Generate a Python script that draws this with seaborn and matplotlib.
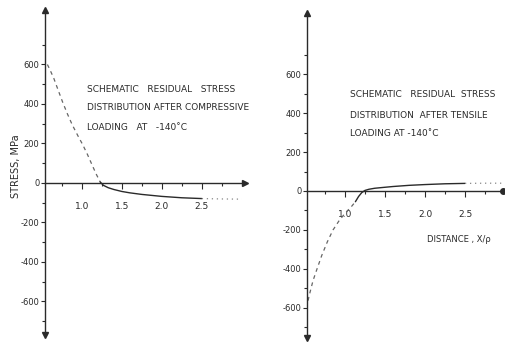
import matplotlib
matplotlib.use("Agg")
import matplotlib.pyplot as plt
import seaborn as sns

sns.set_style("white")
plt.rcParams['font.family'] = ['DejaVu Sans']

# ---- data (left: compressive loading) ----
comp_dash_x = [0.57, 0.60, 0.65, 0.70, 0.76, 0.82, 0.88, 0.95, 1.01, 1.07, 1.13, 1.18, 1.23]
comp_dash_y = [600, 575, 530, 475, 410, 350, 295, 240, 195, 145, 90, 45, 5]
comp_solid_x = [1.23, 1.27, 1.33, 1.40, 1.50, 1.60, 1.75, 2.00, 2.25, 2.50]
comp_solid_y = [5, -12, -24, -33, -43, -50, -58, -68, -75, -79]
comp_dot_x = [2.50, 2.75, 3.00]
comp_dot_y = [-79, -81, -82]

# ---- data (right: tensile loading) ----
tens_dash_x = [0.52, 0.55, 0.60, 0.65, 0.71, 0.78, 0.85, 0.93, 1.01, 1.08, 1.13]
tens_dash_y = [-600, -540, -460, -400, -330, -260, -200, -150, -110, -80, -55]
tens_solid_x = [1.13, 1.17, 1.21, 1.25, 1.30, 1.37, 1.47, 1.60, 1.80, 2.00, 2.25, 2.50]
tens_solid_y = [-55, -28, -8, 3, 9, 14, 18, 23, 29, 33, 37, 39]
tens_dot_x = [2.50, 2.75, 2.97]
tens_dot_y = [39, 40, 40]

y_ticks = [-600, -400, -200, 0, 200, 400, 600]
y_labels = ["-600", "-400", "-200", "0", "200", "400", "600"]
x_ticks = [1.0, 1.5, 2.0, 2.5]
x_labels = ["1.0", "1.5", "2.0", "2.5"]

W, H = 505, 347
fig = plt.figure(figsize=(W / 100, H / 100), dpi=100)
fig.patch.set_facecolor("white")

ink = "#2a2a2a"

def make_axes(rect, xlim, ylim, xpad):
    ax = fig.add_axes(rect)
    ax.set_xlim(*xlim)
    ax.set_ylim(*ylim)
    ax.patch.set_alpha(0)
    for s in ["top", "right"]:
        ax.spines[s].set_visible(False)
    ax.spines["bottom"].set_position(("data", 0))
    for s in ["left", "bottom"]:
        ax.spines[s].set_color(ink)
        ax.spines[s].set_linewidth(1.0)
    ax.set_yticks(y_ticks)
    ax.set_yticklabels(y_labels)
    ax.set_yticks([-700, -500, -300, -100, 100, 300, 500, 700], minor=True)
    ax.set_xticks(x_ticks)
    ax.set_xticklabels(x_labels)
    ax.set_xticks([0.75, 1.25, 1.75, 2.25, 2.75], minor=True)
    ax.tick_params(axis="y", which="major", direction="out", length=3, width=0.8,
                   color=ink, labelsize=6, labelcolor=ink, pad=1, left=True)
    ax.tick_params(axis="y", which="minor", direction="out", length=2.5, width=0.8,
                   color=ink, left=True)
    ax.tick_params(axis="x", which="major", direction="out", length=4, width=0.8,
                   color=ink, labelsize=6.5, labelcolor=ink, pad=xpad, bottom=True)
    ax.tick_params(axis="x", which="minor", direction="out", length=2.5, width=0.8,
                   color=ink, bottom=True)
    ax.set_xlabel("")
    ax.set_ylabel("")
    ax.grid(False)
    # arrowheads on the y axis
    ax.plot([0], [1], marker="^", color=ink, markersize=5,
            transform=ax.transAxes, clip_on=False)
    ax.plot([0], [0], marker="v", color=ink, markersize=5,
            transform=ax.transAxes, clip_on=False)
    return ax

# left panel
axL = make_axes([45 / W, 12 / H, 200 / W, 325 / H], (0.54, 3.04), (-770, 876), 10)
sns.lineplot(x=comp_dash_x, y=comp_dash_y, ax=axL, color="#666666", lw=0.9,
             linestyle=(0, (3, 3)), sort=False)
sns.lineplot(x=comp_solid_x, y=comp_solid_y, ax=axL, color=ink, lw=1.0, sort=False)
sns.lineplot(x=comp_dot_x, y=comp_dot_y, ax=axL, color="#888888", lw=0.9,
             linestyle=(0, (1, 3)), sort=False)
axL.plot([1], [0], marker=">", color=ink, markersize=5,
         transform=axL.get_yaxis_transform(), clip_on=False)
axL.set_ylabel("STRESS, MPa", fontsize=7, color=ink)
axL.yaxis.set_label_coords(-0.12, 0.52)

fs = 6.5
fig.text(87 / W, 1 - 89 / H, "SCHEMATIC   RESIDUAL   STRESS", fontsize=fs,
         color=ink, va="center", ha="left")
fig.text(87 / W, 1 - 108 / H, "DISTRIBUTION AFTER COMPRESSIVE", fontsize=fs,
         color=ink, va="center", ha="left")
fig.text(87 / W, 1 - 127 / H, "LOADING   AT   -140\u02daC", fontsize=fs,
         color=ink, va="center", ha="left")

# right panel
axR = make_axes([307 / W, 9 / H, 196 / W, 325 / H], (0.525, 2.975), (-754, 913), 10)
sns.lineplot(x=tens_dash_x, y=tens_dash_y, ax=axR, color="#666666", lw=0.9,
             linestyle=(0, (3, 3)), sort=False)
sns.lineplot(x=tens_solid_x, y=tens_solid_y, ax=axR, color=ink, lw=1.0, sort=False)
sns.lineplot(x=tens_dot_x, y=tens_dot_y, ax=axR, color="#888888", lw=0.9,
             linestyle=(0, (1, 3)), sort=False)
axR.plot([1], [0], marker="o", color=ink, markersize=4,
         transform=axR.get_yaxis_transform(), clip_on=False)
fig.text(350 / W, 1 - 95 / H, "SCHEMATIC   RESIDUAL  STRESS", fontsize=fs,
         color=ink, va="center", ha="left")
fig.text(350 / W, 1 - 115 / H, "DISTRIBUTION  AFTER TENSILE", fontsize=fs,
         color=ink, va="center", ha="left")
fig.text(350 / W, 1 - 133 / H, "LOADING AT -140\u02daC", fontsize=fs,
         color=ink, va="center", ha="left")
fig.text(427 / W, 1 - 240 / H, "DISTANCE , X/\u03c1", fontsize=6,
         color=ink, va="center", ha="left")

fig.savefig("out.png", dpi=100, facecolor="white")
